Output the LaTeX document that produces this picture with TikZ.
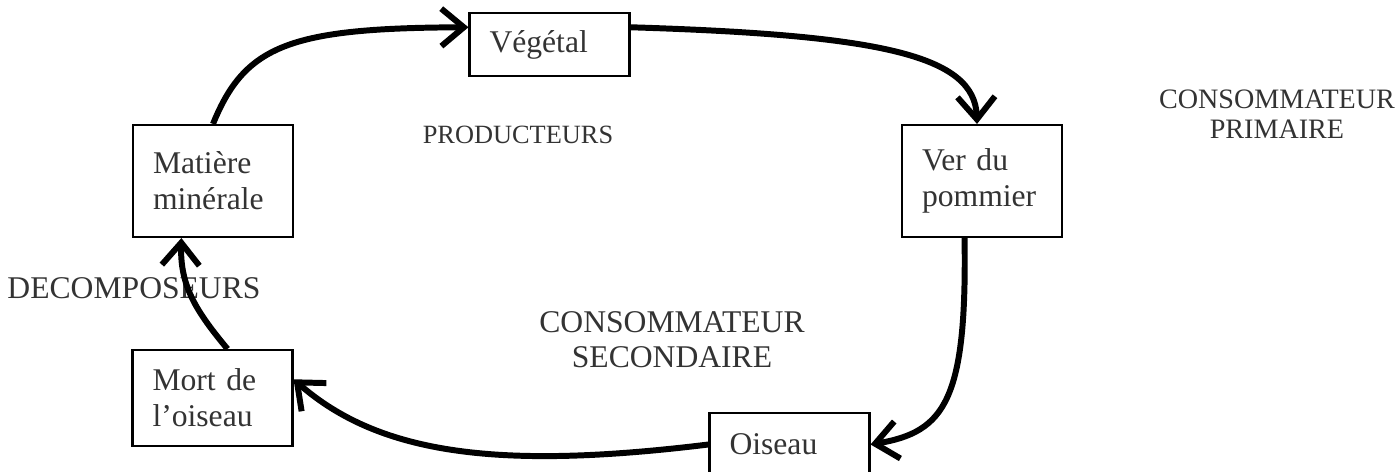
\documentclass[tikz,border=0pt]{standalone}
\usepackage{fontspec}
\setmainfont{Liberation Serif}
\usetikzlibrary{arrows.meta}
\tikzset{
  box/.style={draw, line width=1.2pt, text width=2.4cm, inner xsep=0.4cm,
              align=left, font=\fontsize{18}{20.5}\selectfont, text=black!80},
  tag/.style={align=center, font=\fontsize{16}{17}\selectfont, text=black!80},
  arrow/.style={-{Straight Barb[length=4.5mm, width=7.5mm]}, line width=3.4pt}
}

\begin{document}
\begin{tikzpicture}[x=0.02cm, y=-0.02cm]
  \useasboundingbox (0,0) rectangle (1399,472);

  % Boxes
  \node[box, minimum height=1.26cm] (veg) at (549.5,44.5) {Végétal};
  \node[box, minimum height=2.24cm] (mat) at (213,181) {Matière\\minérale};
  \node[box, minimum height=2.24cm] (ver) at (982,181) {Ver du\\pommier};
  \node[box, minimum height=1.92cm] (mort) at (212.5,398) {Mort de\\l'oiseau};
  \node[box, minimum height=1.26cm] (ois) at (789.5,444.5) {Oiseau};

  % Labels
  \node[tag, font=\fontsize{15}{16}\selectfont] (prod) at (518,135) {PRODUCTEURS};
  \node[tag] (prim) at (1277,114) {CONSOMMATEUR\\PRIMAIRE};
  \node[tag, font=\fontsize{18}{19}\selectfont] (deco) at (134,288) {DECOMPOSEURS};
  \node[tag, font=\fontsize{18}{20}\selectfont] (sec) at (672,340) {CONSOMMATEUR\\SECONDAIRE};

  % Arrows
  \draw[arrow] (mat.north) .. controls (245,45) and (290,28) .. (veg.168);
  \draw[arrow] (veg.12) .. controls (880,35) and (975,55) .. (ver.95);
  \draw[arrow] (ver.253) .. controls (967,400) and (945,432) .. (ois.east);
  \draw[arrow] (ois.west) .. controls (500,470) and (380,455) .. (mort.13);
  \draw[arrow] (mort.73) .. controls (195,310) and (180,285) .. (mat.241);
\end{tikzpicture}
\end{document}
